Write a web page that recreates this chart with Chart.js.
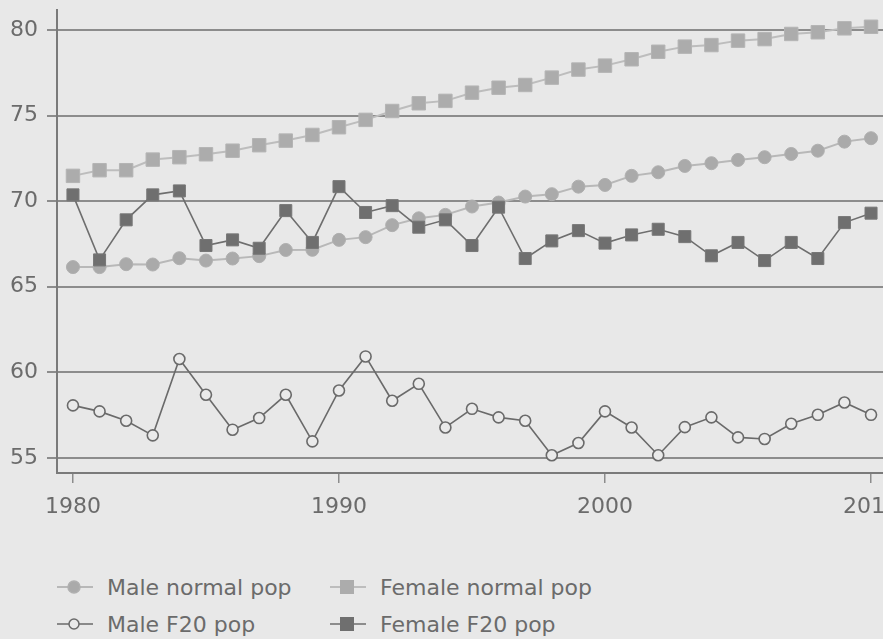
<!DOCTYPE html>
<html>
<head>
<meta charset="utf-8">
<script src="https://cdn.jsdelivr.net/npm/chart.js@4/dist/chart.umd.min.js"></script>
<style>
    html, body { margin: 0; padding: 0; background: #e8e8e8; overflow: hidden; }
    #wrap { position: relative; width: 883px; height: 639px; }
    #chart { position: absolute; left: 0; top: 0; }
    .legend-item {
        position: absolute;
        height: 30px;
        display: flex;
        align-items: center;
        font-family: 'DejaVu Sans', sans-serif;
        font-size: 22px;
        color: #6b6b6b;
        white-space: nowrap;
    }
    .legend-item svg { margin-right: 14px; }
</style>
</head>
<body>
<div id="wrap">
    <canvas id="chart" width="883" height="540"></canvas>
    <div id="legend"></div>
</div>
<script>
const years = [
    1980, 1981, 1982, 1983, 1984, 1985, 1986, 1987, 1988, 1989,
    1990, 1991, 1992, 1993, 1994, 1995, 1996, 1997, 1998, 1999,
    2000, 2001, 2002, 2003, 2004, 2005, 2006, 2007, 2008, 2009, 2010
];

const maleNormal = [
    66.15, 66.15, 66.32, 66.30, 66.67, 66.53, 66.65, 66.79, 67.15, 67.16,
    67.74, 67.90, 68.60, 69.00, 69.20, 69.69, 69.92, 70.27, 70.41, 70.85,
    70.95, 71.48, 71.69, 72.06, 72.22, 72.41, 72.57, 72.76, 72.95, 73.48, 73.68
];

const femaleNormal = [
    71.48, 71.81, 71.81, 72.43, 72.57, 72.74, 72.95, 73.27, 73.54, 73.87,
    74.32, 74.75, 75.27, 75.72, 75.86, 76.34, 76.63, 76.79, 77.22, 77.69,
    77.92, 78.29, 78.73, 79.03, 79.12, 79.38, 79.47, 79.77, 79.87, 80.10, 80.19
];

const maleF20 = [
    58.07, 57.72, 57.17, 56.32, 60.78, 58.69, 56.65, 57.33, 58.69, 55.97,
    58.94, 60.93, 58.34, 59.33, 56.78, 57.87, 57.37, 57.17, 55.16, 55.87,
    57.72, 56.78, 55.16, 56.80, 57.37, 56.20, 56.11, 57.00, 57.52, 58.24, 57.52
];

const femaleF20 = [
    70.37, 66.57, 68.91, 70.37, 70.60, 67.41, 67.74, 67.25, 69.45, 67.59,
    70.85, 69.34, 69.74, 68.48, 68.91, 67.41, 69.65, 66.65, 67.68, 68.28,
    67.55, 68.03, 68.36, 67.93, 66.81, 67.59, 66.53, 67.59, 66.65, 68.75, 69.30
];

const yTicks = [55, 60, 65, 70, 75, 80];
const xTicks = [1980, 1990, 2000, 2010];

const BG = '#e8e8e8';
const TEXT = '#6b6b6b';
const GRID = '#8c8c8c';
const FONT = "'DejaVu Sans', sans-serif";

function toPoints(values) {
    return values.map((v, i) => ({ x: years[i], y: v }));
}

// top-most dataset first
const series = [
    {
        label: 'Female F20 pop',
        data: toPoints(femaleF20),
        borderColor: '#6e6e6e',
        borderWidth: 1.6,
        pointStyle: 'rect',
        pointRadius: 8.5,
        pointBackgroundColor: '#6f6f6f',
        pointBorderColor: '#777777',
        pointBorderWidth: 1
    },
    {
        label: 'Male F20 pop',
        data: toPoints(maleF20),
        borderColor: '#6a6a6a',
        borderWidth: 1.6,
        pointStyle: 'circle',
        pointRadius: 5.5,
        pointBackgroundColor: '#eaeaea',
        pointBorderColor: '#6a6a6a',
        pointBorderWidth: 1.6
    },
    {
        label: 'Female normal pop',
        data: toPoints(femaleNormal),
        borderColor: '#bdbdbd',
        borderWidth: 2,
        pointStyle: 'rect',
        pointRadius: 9.5,
        pointBackgroundColor: '#acacac',
        pointBorderColor: '#b4b4b4',
        pointBorderWidth: 1
    },
    {
        label: 'Male normal pop',
        data: toPoints(maleNormal),
        borderColor: '#b8b8b8',
        borderWidth: 2,
        pointStyle: 'circle',
        pointRadius: 6.5,
        pointBackgroundColor: '#aaaaaa',
        pointBorderColor: '#b0b0b0',
        pointBorderWidth: 1
    }
];

const bgPlugin = {
    id: 'bg',
    beforeDraw(chart) {
        const ctx = chart.ctx;
        ctx.save();
        ctx.fillStyle = BG;
        ctx.fillRect(0, 0, chart.width, chart.height);
        ctx.restore();
    }
};

new Chart(document.getElementById('chart'), {
    type: 'line',
    data: { datasets: series.map(s => Object.assign({ fill: false, tension: 0, clip: false }, s)) },
    options: {
        responsive: false,
        animation: false,
        layout: { autoPadding: false, padding: { top: 10, left: 0, right: 0, bottom: 0 } },
        plugins: {
            legend: { display: false },
            tooltip: { enabled: false }
        },
        scales: {
            x: {
                type: 'linear',
                min: 1979.4,
                max: 2010.45,
                afterBuildTicks: axis => { axis.ticks = xTicks.map(v => ({ value: v })); },
                afterFit: axis => {
                    axis.height = 67;
                    axis.paddingLeft = 0;
                    axis.paddingRight = 0;
                },
                ticks: {
                    color: TEXT,
                    font: { family: FONT, size: 22 },
                    padding: 11,
                    maxRotation: 0,
                    autoSkip: false,
                    callback: v => String(v)
                },
                grid: {
                    drawOnChartArea: false,
                    color: GRID,
                    lineWidth: 1.5,
                    tickLength: 10
                },
                border: { color: '#7a7a7a', width: 2 }
            },
            y: {
                min: 54.12,
                max: 81.17,
                afterBuildTicks: axis => { axis.ticks = yTicks.map(v => ({ value: v })); },
                afterFit: axis => {
                    axis.width = 57;
                    axis.paddingTop = 0;
                    axis.paddingBottom = 0;
                },
                ticks: {
                    color: TEXT,
                    font: { family: FONT, size: 22 },
                    padding: 9,
                    callback: v => String(v)
                },
                grid: {
                    color: GRID,
                    lineWidth: 2,
                    tickLength: 10
                },
                border: { color: '#7a7a7a', width: 2 }
            }
        }
    },
    plugins: [bgPlugin]
});

// legend drawn as html, two columns in series order of the original
function symbolSvg(s) {
    const line = `<line x1="0" y1="15" x2="36" y2="15" stroke="${s.borderColor}" stroke-width="${s.borderWidth}"/>`;
    let mark;
    if (s.pointStyle === 'rect') {
        mark = `<rect x="10" y="8" width="14" height="14" fill="${s.pointBackgroundColor}"/>`;
    } else {
        mark = `<circle cx="17" cy="15" r="${s.label === 'Male F20 pop' ? 5 : 6}" fill="${s.pointBackgroundColor}" stroke="${s.pointBorderColor}" stroke-width="1.5"/>`;
    }
    return `<svg width="36" height="30" viewBox="0 0 36 30">${line}${mark}</svg>`;
}

const legendLayout = [
    { label: 'Male normal pop', left: 57, top: 572 },
    { label: 'Female normal pop', left: 330, top: 572 },
    { label: 'Male F20 pop', left: 57, top: 609 },
    { label: 'Female F20 pop', left: 330, top: 609 }
];

const legendEl = document.getElementById('legend');
legendLayout.forEach(item => {
    const s = series.find(d => d.label === item.label);
    legendEl.insertAdjacentHTML('beforeend',
        `<div class="legend-item" style="left:${item.left}px;top:${item.top}px">${symbolSvg(s)}<span>${item.label}</span></div>`);
});
</script>
</body>
</html>
